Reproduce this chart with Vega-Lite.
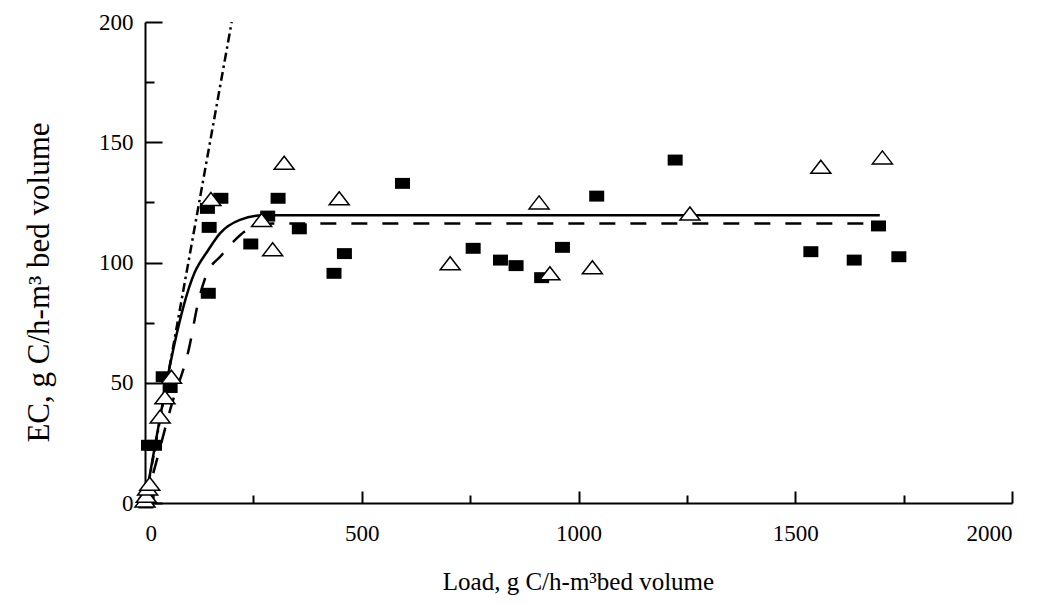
{
  "$schema": "https://vega.github.io/schema/vega-lite/v6.json",
  "width": 867,
  "height": 481,
  "autosize": {"type": "none"},
  "padding": {"left": 145, "top": 22, "right": 40, "bottom": 102},
  "background": "white",
  "config": {
    "view": {"stroke": null},
    "axis": {"grid": false, "domainColor": "black", "tickColor": "black", "labelColor": "black", "titleColor": "black", "labelFont": "Liberation Serif", "titleFont": "Liberation Serif", "titleFontWeight": "normal"}
  },
  "datasets": {
    "lines": [
      {"series": "ideal", "load": 0, "ec": 0},
      {"series": "ideal", "load": 200, "ec": 200},
      {"series": "solid", "load": 0, "ec": 0},
      {"series": "solid", "load": 115, "ec": 96},
      {"series": "solid", "load": 146, "ec": 105.2},
      {"series": "solid", "load": 173, "ec": 112.1},
      {"series": "solid", "load": 219, "ec": 117.7},
      {"series": "solid", "load": 273, "ec": 119.6},
      {"series": "solid", "load": 1695, "ec": 119.6},
      {"series": "dashed", "load": 0, "ec": 0},
      {"series": "dashed", "load": 23, "ec": 15},
      {"series": "dashed", "load": 60, "ec": 40},
      {"series": "dashed", "load": 101.5, "ec": 64.3},
      {"series": "dashed", "load": 123, "ec": 83.7},
      {"series": "dashed", "load": 140, "ec": 94.1},
      {"series": "dashed", "load": 177, "ec": 103.1},
      {"series": "dashed", "load": 204, "ec": 108.7},
      {"series": "dashed", "load": 250, "ec": 114.9},
      {"series": "dashed", "load": 295, "ec": 116.2},
      {"series": "dashed", "load": 1700, "ec": 116.2}
    ],
    "squares": [
      {"load": 2, "ec": 0}, {"load": 5, "ec": 2}, {"load": 8, "ec": 24}, {"load": 22, "ec": 24},
      {"load": 42, "ec": 52.5}, {"load": 58, "ec": 48}, {"load": 146, "ec": 87.2}, {"load": 144, "ec": 122.5},
      {"load": 148, "ec": 114.6}, {"load": 175, "ec": 126.7}, {"load": 244, "ec": 107.7}, {"load": 283, "ec": 119.3},
      {"load": 307, "ec": 126.7}, {"load": 356, "ec": 114}, {"load": 436, "ec": 95.5}, {"load": 460, "ec": 103.7},
      {"load": 594, "ec": 132.9}, {"load": 757, "ec": 105.9}, {"load": 820, "ec": 101}, {"load": 856, "ec": 98.7},
      {"load": 915, "ec": 93.7}, {"load": 963, "ec": 106.3}, {"load": 1042, "ec": 127.6}, {"load": 1223, "ec": 142.6},
      {"load": 1536, "ec": 104.5}, {"load": 1636, "ec": 101}, {"load": 1692, "ec": 115.2}, {"load": 1739, "ec": 102.4}
    ],
    "triangles": [
      {"load": 0, "ec": 1}, {"load": 3, "ec": 3}, {"load": 6, "ec": 6}, {"load": 11, "ec": 8},
      {"load": 35, "ec": 36}, {"load": 46, "ec": 44}, {"load": 61, "ec": 52.5}, {"load": 152, "ec": 126.4},
      {"load": 269, "ec": 117.7}, {"load": 294.5, "ec": 105.5}, {"load": 321, "ec": 141.5}, {"load": 448, "ec": 126.7},
      {"load": 704, "ec": 99.7}, {"load": 909, "ec": 125}, {"load": 934, "ec": 95.5}, {"load": 1032, "ec": 98},
      {"load": 1257, "ec": 120.4}, {"load": 1559, "ec": 139.8}, {"load": 1701, "ec": 143.7}
    ]
  },
  "layer": [
    {
      "data": {"name": "lines"},
      "transform": [{"filter": "datum.series === 'ideal'"}],
      "mark": {"type": "line", "color": "black", "strokeWidth": 2.5, "strokeDash": [9, 4, 2.5, 4], "clip": true},
      "encoding": {
        "x": {"field": "load", "type": "quantitative", "scale": {"domain": [0, 2000]}, "axis": null},
        "y": {"field": "ec", "type": "quantitative", "scale": {"domain": [0, 200]}, "axis": null}
      }
    },
    {
      "data": {"name": "lines"},
      "transform": [{"filter": "datum.series === 'solid'"}],
      "mark": {"type": "line", "color": "black", "strokeWidth": 2.5, "interpolate": "monotone"},
      "encoding": {
        "x": {"field": "load", "type": "quantitative", "axis": null},
        "y": {"field": "ec", "type": "quantitative", "axis": null}
      }
    },
    {
      "data": {"name": "lines"},
      "transform": [{"filter": "datum.series === 'dashed'"}],
      "mark": {"type": "line", "color": "black", "strokeWidth": 2.5, "strokeDash": [16, 15], "interpolate": "monotone"},
      "encoding": {
        "x": {"field": "load", "type": "quantitative", "axis": null},
        "y": {"field": "ec", "type": "quantitative", "axis": null}
      }
    },
    {
      "data": {"name": "squares"},
      "mark": {"type": "point", "shape": "M-1,-0.73H1V0.73H-1Z", "filled": true, "color": "black", "size": 225, "opacity": 1},
      "encoding": {
        "x": {"field": "load", "type": "quantitative", "axis": {"orient": "bottom", "values": [0, 500, 1000, 1500, 2000], "format": "d", "tickSize": -12, "tickWidth": 2, "domainWidth": 2, "labelFontSize": 23, "labelPadding": 31, "title": "Load, g C/h-m³bed volume", "titleFontSize": 25, "titleX": 433, "titleY": 86, "titleBaseline": "alphabetic"}},
        "y": {"field": "ec", "type": "quantitative", "axis": {"orient": "left", "values": [0, 50, 100, 150, 200], "format": "d", "tickSize": -17, "tickWidth": 2, "domainWidth": 2, "labelFontSize": 23, "labelPadding": 29, "title": "EC, g C/h-m³ bed volume", "titleFontSize": 31, "titleAngle": 270, "titleX": -97, "titleY": 260, "titleBaseline": "alphabetic", "titleAlign": "center"}}
      }
    },
    {
      "data": {"name": "triangles"},
      "mark": {"type": "point", "shape": "M0,-0.65L1,0.65L-1,0.65Z", "filled": false, "fill": "white", "stroke": "black", "strokeWidth": 1.5, "size": 400, "opacity": 1},
      "encoding": {
        "x": {"field": "load", "type": "quantitative", "axis": {"orient": "bottom", "values": [250, 750, 1250, 1750], "tickSize": -8, "tickWidth": 2, "domain": false, "labels": false, "title": null}},
        "y": {"field": "ec", "type": "quantitative", "axis": {"orient": "left", "values": [25, 75, 125, 175], "tickSize": -9, "tickWidth": 2, "domain": false, "labels": false, "title": null}}
      }
    }
  ],
  "resolve": {"axis": {"x": "independent", "y": "independent"}}
}
